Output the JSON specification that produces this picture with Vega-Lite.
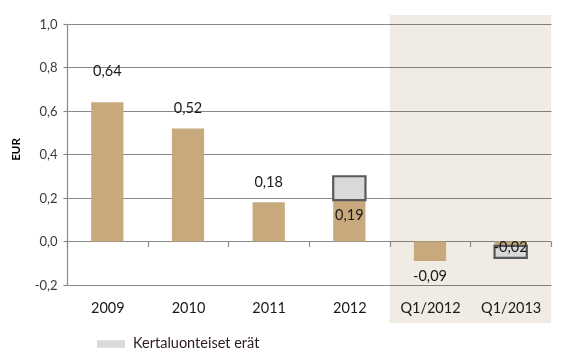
{
  "$schema": "https://vega.github.io/schema/vega-lite/v6.json",
  "width": 484,
  "height": 261,
  "autosize": {"type": "none"},
  "padding": {"left": 67, "top": 24, "right": 11, "bottom": 75},
  "config": {
    "locale": {"number": {"decimal": ",", "thousands": " ", "grouping": [3], "currency": ["", " €"], "minus": "-"}},
    "font": "Lato",
    "view": {"stroke": null}
  },
  "data": {
    "values": [
      {"cat": "2009", "value": 0.64, "quarter": false},
      {"cat": "2010", "value": 0.52, "quarter": false},
      {"cat": "2011", "value": 0.18, "quarter": false},
      {"cat": "2012", "value": 0.19, "total": 0.30, "quarter": false},
      {"cat": "Q1/2012", "value": -0.09, "quarter": true},
      {"cat": "Q1/2013", "value": -0.02, "total": -0.075, "quarter": true}
    ]
  },
  "encoding": {
    "x": {"field": "cat", "type": "nominal", "sort": null,
          "scale": {"domain": ["2009", "2010", "2011", "2012", "Q1/2012", "Q1/2013"], "paddingInner": 0, "paddingOuter": 0},
          "axis": {"orient": "bottom", "domain": false, "ticks": true, "tickBand": "extent", "tickSize": 5, "tickColor": "#8A8A8A", "tickWidth": 1.2, "offset": -43.5,
                   "labelPadding": 55, "labelFontSize": 14.5, "labelColor": "#1a1a1a", "labelAngle": 0, "title": null}},
    "y": {"field": "value", "type": "quantitative",
          "scale": {"domain": [-0.2, 1.0], "nice": false, "zero": false},
          "axis": {"values": [-0.2, 0, 0.2, 0.4, 0.6, 0.8, 1.0], "format": ".1f", "grid": true, "gridColor": "#8A8A8A", "gridWidth": 1.2,
                   "domainColor": "#8A8A8A", "domainWidth": 1.2, "tickColor": "#8A8A8A", "tickSize": 4, "tickWidth": 1.2,
                   "labelFontSize": 13, "labelColor": "#3a3a3a", "labelPadding": 6,
                   "title": "EUR", "titleFontSize": 11.5, "titleFontWeight": "bold", "titleColor": "#000000", "titleY": 125, "titlePadding": 13}}
  },
  "layer": [
    {
      "transform": [{"filter": "datum.quarter"}],
      "mark": {"type": "rect", "color": "#F0ECE4", "blend": "multiply", "clip": false},
      "encoding": {
        "y": {"datum": 1.041, "type": "quantitative"},
        "y2": {"datum": -0.375}
      }
    },
    {
      "mark": {"type": "bar", "color": "#C8A97E", "width": {"band": 0.4}},
      "encoding": {
        "y2": {"datum": 0}
      }
    },
    {
      "transform": [{"filter": "isValid(datum.total)"}],
      "mark": {"type": "bar", "stroke": "#595959", "strokeWidth": 2.2, "width": {"band": 0.4}},
      "encoding": {
        "y2": {"field": "total"},
        "color": {"datum": "Kertaluonteiset erät", "type": "nominal",
                  "scale": {"range": ["#D9D9D9"]},
                  "legend": {"title": null, "orient": "none", "legendX": 30, "legendY": 306, "symbolType": "M-1,-0.27H1V0.27H-1Z", "symbolSize": 784, "symbolStrokeWidth": 0, "symbolOpacity": 1, "labelFontSize": 14.5, "labelColor": "#2a1c1c", "labelOffset": 8, "padding": 0}}
      }
    },
    {
      "transform": [{"filter": "indexof(['2010','2011'], datum.cat) >= 0"}],
      "mark": {"type": "text", "fontSize": 14.5, "color": "#1a1a1a", "baseline": "middle", "dy": -19},
      "encoding": {
        "text": {"field": "value", "type": "quantitative", "format": ".2f"}
      }
    },
    {
      "transform": [{"filter": "datum.cat == '2009'"}],
      "mark": {"type": "text", "fontSize": 14.5, "color": "#1a1a1a", "baseline": "middle", "dy": -30},
      "encoding": {
        "text": {"field": "value", "type": "quantitative", "format": ".2f"}
      }
    },
    {
      "transform": [{"filter": "datum.cat == '2012' || datum.cat == 'Q1/2012'"}],
      "mark": {"type": "text", "fontSize": 14.5, "color": "#1a1a1a", "baseline": "middle", "dy": 16},
      "encoding": {
        "text": {"field": "value", "type": "quantitative", "format": ".2f"}
      }
    },
    {
      "transform": [{"filter": "datum.cat == 'Q1/2013'"}],
      "mark": {"type": "text", "fontSize": 14.5, "color": "#1a1a1a", "baseline": "middle", "dy": 2.5},
      "encoding": {
        "text": {"field": "value", "type": "quantitative", "format": ".2f"}
      }
    }
  ]
}
